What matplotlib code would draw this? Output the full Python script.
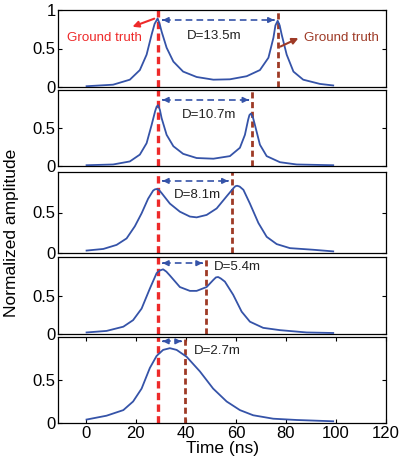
import matplotlib.pyplot as plt

plt.rcParams['font.family'] = ['Liberation Sans', 'DejaVu Sans']

# pulse data, time in ns
t1 = [0.3, 10.9, 17.6, 21.6, 24.3, 26.3, 27.5, 28.7, 29.5, 30.3, 32.3, 35, 38.9, 44.3, 51, 57.6, 64.3, 69.6, 73, 75, 75.8, 76.7, 77.5, 78.3, 80.3, 83, 86.9, 93.6, 98.9]
a1 = [0.01, 0.03, 0.095, 0.22, 0.42, 0.68, 0.82, 0.89, 0.82, 0.72, 0.51, 0.33, 0.20, 0.13, 0.095, 0.10, 0.14, 0.22, 0.38, 0.64, 0.80, 0.86, 0.80, 0.68, 0.42, 0.20, 0.095, 0.04, 0.02]

t2 = [0.3, 10.9, 17.6, 21.6, 24.3, 26.3, 27.7, 28.3, 28.9, 29.6, 30.3, 32.3, 35, 38.9, 44.3, 51, 57.6, 61.6, 63.6, 64.9, 65.4, 66, 66.8, 67.6, 69.6, 72.3, 77.6, 84.3, 98.9]
a2 = [0.01, 0.02, 0.06, 0.15, 0.30, 0.54, 0.72, 0.78, 0.80, 0.74, 0.63, 0.41, 0.26, 0.16, 0.105, 0.096, 0.13, 0.24, 0.41, 0.61, 0.67, 0.69, 0.64, 0.54, 0.28, 0.13, 0.05, 0.02, 0.01]

t3 = [0.3, 7, 12.3, 16.3, 19.6, 22.3, 24.9, 26.9, 27.6, 28.3, 29.2, 30.3, 33.6, 37.6, 41.6, 44.3, 48.3, 52.3, 56.3, 59, 59.8, 60.5, 61.5, 63, 65.6, 69, 72.3, 76.3, 81.6, 90.9, 98.9]
a3 = [0.03, 0.05, 0.10, 0.18, 0.33, 0.49, 0.67, 0.77, 0.785, 0.79, 0.78, 0.74, 0.61, 0.51, 0.45, 0.44, 0.47, 0.55, 0.70, 0.80, 0.825, 0.83, 0.82, 0.78, 0.61, 0.37, 0.20, 0.11, 0.06, 0.04, 0.02]

t4 = [0.3, 8.3, 15, 18.9, 22.3, 25.6, 28.3, 29.6, 30.9, 32.2, 33.6, 37.6, 41.6, 44.3, 48.3, 50.9, 52, 52.9, 54, 55.6, 58.9, 62.3, 65.6, 70.9, 77.6, 88.3, 98.9]
a4 = [0.02, 0.04, 0.095, 0.18, 0.33, 0.59, 0.79, 0.825, 0.84, 0.81, 0.76, 0.61, 0.56, 0.56, 0.61, 0.70, 0.735, 0.74, 0.72, 0.68, 0.51, 0.29, 0.16, 0.08, 0.05, 0.02, 0.013]

t5 = [0.3, 8.3, 15, 18.9, 22.3, 25.6, 28.3, 30.9, 33.6, 36.3, 40.3, 45.6, 50.9, 56.3, 61.6, 66.9, 74.9, 84.3, 98.9]
a5 = [0.04, 0.085, 0.15, 0.25, 0.40, 0.64, 0.78, 0.85, 0.87, 0.85, 0.77, 0.60, 0.40, 0.25, 0.15, 0.09, 0.05, 0.035, 0.02]

times = [t1, t2, t3, t4, t5]
amps = [a1, a2, a3, a4, a5]

# ground truth positions (ns) and distance labels
truth_left = 29
truth_right = [76.7, 66.5, 58.3, 48, 39.6]
dist_labels = ["D=13.5m", "D=10.7m", "D=8.1m", "D=5.4m", "D=2.7m"]

# layout of the panels in pixels (top, bottom)
panel_px = [(10, 87), (90, 166), (172, 253), (257, 334), (337, 423)]
arrow_y = [0.87, 0.87, 0.89, 0.92, 0.95]
label_pos = [(51.2, 0.66), (49.2, 0.67), (44.6, 0.72), (60.6, 0.87), (52.6, 0.84)]

blue = "#3553a8"
red = "#ee2a2a"
brown = "#9e3a26"

fig = plt.figure(figsize=(4.05, 4.66), dpi=100)
W, H = 405.0, 466.0

axes = []
for i in range(5):
    top, bot = panel_px[i]
    ax = fig.add_axes([58.3 / W, 1 - bot / H, (386 - 58.3) / W, (bot - top) / H])
    axes.append(ax)
    ax.plot(times[i], amps[i], color=blue, lw=1.3, zorder=3)
    ax.axvline(truth_left, color=red, lw=2.4, ls=(0, (2.2, 1.3)), zorder=2)
    ax.axvline(truth_right[i], color=brown, lw=2.0, ls=(0, (2.2, 1.3)), zorder=2)

    # dashed double arrow between the two estimated peaks
    x1 = truth_left + 0.6
    x2 = truth_right[i] - 0.3
    y = arrow_y[i]
    ax.plot([x1 + 1.5, x2 - 1.5], [y, y], color=blue, lw=1.2, ls=(0, (4, 2.5)), zorder=4)
    ax.annotate("", xy=(x1, y), xytext=(x1 + 2.5, y),
                arrowprops=dict(arrowstyle="-|>", color=blue, lw=1.2, mutation_scale=8))
    ax.annotate("", xy=(x2, y), xytext=(x2 - 2.5, y),
                arrowprops=dict(arrowstyle="-|>", color=blue, lw=1.2, mutation_scale=8))
    lx, ly = label_pos[i]
    ax.text(lx, ly, dist_labels[i], fontsize=9.6, color="#222222", ha="center", va="center")

    ax.set_xlim(-11, 120)
    ax.set_ylim(0, 1)
    ax.tick_params(direction="in", length=3, width=0.8, labelsize=12, pad=2,
                   right=True, top=(i == 4))
    if i == 0:
        ax.set_yticks([0, 0.5, 1])
        ax.set_yticklabels(["0", "0.5", "1"])
    else:
        ax.set_yticks([0, 0.5])
        ax.set_yticklabels(["0", "0.5"])
    if i < 4:
        ax.set_xticks([])
    else:
        ax.set_xticks([0, 20, 40, 60, 80, 100, 120])
        ax.set_xlabel("Time (ns)", fontsize=12.5, labelpad=0)
    for s in ax.spines.values():
        s.set_linewidth(0.9)

# ground truth callouts on the top panel
ax = axes[0]
ax.annotate("", xy=(17.6, 0.77), xytext=(28.4, 0.90),
            arrowprops=dict(arrowstyle="-|>", color=red, lw=1.5, mutation_scale=9))
ax.text(7.6, 0.63, "Ground truth", color=red, fontsize=9.6, ha="center", va="center")
ax.annotate("", xy=(86, 0.65), xytext=(76.8, 0.51),
            arrowprops=dict(arrowstyle="-|>", color=brown, lw=1.5, mutation_scale=9))
ax.text(102.2, 0.63, "Ground truth", color=brown, fontsize=9.6, ha="center", va="center")

fig.text(12 / W, 0.5, "Normalized amplitude", rotation=90, fontsize=12.5, ha="center", va="center")

fig.savefig("out.png", dpi=100)
